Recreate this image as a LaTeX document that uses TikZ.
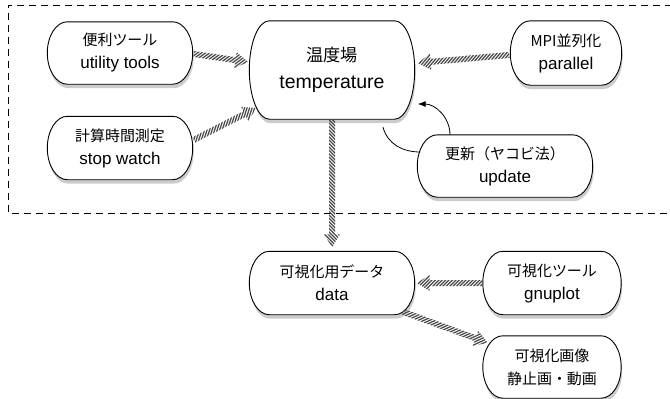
\documentclass[tikz,border=0pt]{standalone}
\usepackage{fontspec}
\setmainfont{Liberation Sans}
\newfontfamily\jp[Scale=0.88]{Noto Sans CJK JP}
\usetikzlibrary{arrows.meta,shadows,calc,decorations.markings}
\pgfdeclarelayer{background}
\pgfsetlayers{background,main}

\definecolor{hatchgray}{HTML}{4A4A4A}

% striped fat arrow, drawn at the end of the path
\newcommand\hatchtip{%
  \pgfmathsetmacro\hlen{\pgfdecoratedpathlength}%
  \pgfmathsetmacro\hend{\pgfdecoratedpathlength+8}%
  \begin{scope}
    \clip (0pt,0pt) -- (-13pt,8pt) -- (-13pt,3pt) -- ({-\hlen*1pt},3pt)
      -- ({-\hlen*1pt},-3pt) -- (-13pt,-3pt) -- (-13pt,-8pt) -- cycle;
    \foreach \s in {-8,-4.6,...,\hend}
      \draw[hatchgray,line width=1.25pt] ({-(\s+8)*1pt},-8pt) -- ({-(\s-8)*1pt},8pt);
  \end{scope}}

% box with elliptic ends behind a node
\newcommand\pill[1]{%
  \path[pillshape] let \p1=(#1.north east), \p2=(#1.south west), \n1={(\y1-\y2)/2} in
    (\x2+20pt,\y1) -- (\x1-20pt,\y1)
    arc[start angle=90,end angle=-90,x radius=20pt,y radius=\n1]
    -- (\x2+20pt,\y2)
    arc[start angle=270,end angle=90,x radius=20pt,y radius=\n1] -- cycle;}

\tikzset{
  box/.style={align=center,inner sep=0pt,font=\fontsize{17}{23}\selectfont},
  pillshape/.style={draw,line width=0.9pt,fill=white,
    drop shadow={shadow xshift=1pt,shadow yshift=-4pt,opacity=0.4}},
  hatch/.style={postaction={decorate},
    decoration={markings,mark=at position 1 with {\hatchtip}}},
  loopline/.style={line width=0.8pt}
}

\begin{document}
\begin{tikzpicture}[x=1pt,y=1pt]
\useasboundingbox (0,0) rectangle (670,-399);

% frame round the solver part
\draw[line width=0.7pt,dash pattern=on 7pt off 5pt] (672,-5) -- (8,-5) -- (8,-213) -- (672,-213);

\node[box,minimum width=165,minimum height=98,font=\fontsize{19.5}{27}\selectfont]
  (temp) at (332,-70) {{\jp 温度場}\\temperature};
\node[box,minimum width=145,minimum height=62] (util) at (120,-53) {{\jp 便利ツール}\\utility tools};
\node[box,minimum width=145,minimum height=63] (stop) at (120,-148) {{\jp 計算時間測定}\\stop watch};
\node[box,minimum width=111,minimum height=64] (mpi) at (566,-53) {{\jp MPI並列化}\\parallel};
\node[box,minimum width=175,minimum height=62] (upd) at (505,-166) {{\jp 更新（ヤコビ法）}\\update};
\node[box,minimum width=165,minimum height=63] (data) at (332,-283) {{\jp 可視化用データ}\\data};
\node[box,minimum width=138,minimum height=63] (gnu) at (552,-283) {{\jp 可視化ツール}\\gnuplot};
\node[box,minimum width=138,minimum height=62] (img) at (552,-367) {{\jp 可視化画像}\\{\jp 静止画・動画}};

\begin{pgfonlayer}{background}
\foreach \nm in {temp,util,stop,mpi,upd,data,gnu,img} {\pill{\nm}}
\end{pgfonlayer}

% striped arrows
\path[hatch] ([xshift=1pt,yshift=-1pt]util.east) -- ([xshift=-1pt,yshift=8pt]temp.west);
\path[hatch] ([xshift=1pt,yshift=8pt]stop.east) -- ([xshift=7pt,yshift=-38pt]temp.west);
\path[hatch] ([xshift=-1pt,yshift=-2pt]mpi.west) -- ([xshift=3pt,yshift=7pt]temp.east);
\path[hatch] (temp.south) -- ([yshift=4pt]data.north);
\path[hatch] ([xshift=-1pt]gnu.west) -- ([xshift=2pt]data.east);
\path[hatch] ([xshift=-12pt,yshift=3pt]data.south east) -- ([xshift=5pt,yshift=-7pt]img.north west);

% update loop
\draw[loopline] ([xshift=51pt,yshift=-8pt]temp.south) to[out=-75,in=180] ([xshift=3pt,yshift=14pt]upd.west);
\draw[loopline,-{Latex[length=8pt,width=6pt]}] ([xshift=-55pt]upd.north) to[out=90,in=0] ([xshift=3pt,yshift=-34pt]temp.east);
\end{tikzpicture}
\end{document}
